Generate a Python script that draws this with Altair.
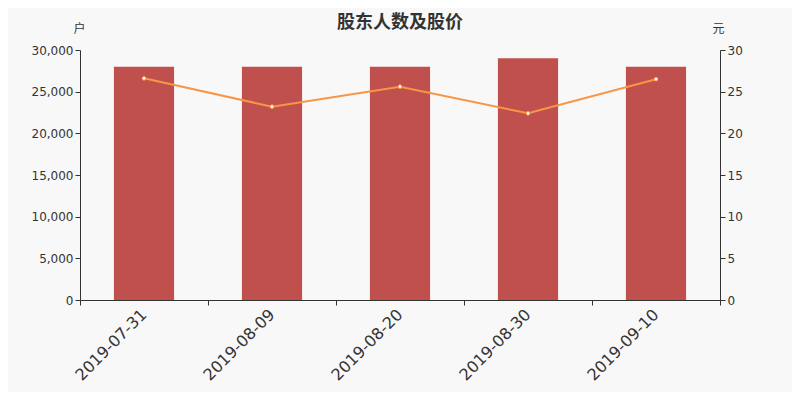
import altair as alt
import pandas as pd

dates = ["2019-07-31", "2019-08-09", "2019-08-20", "2019-08-30", "2019-09-10"]
holders = [28000, 28000, 28000, 29000, 28000]
prices = [26.6, 23.2, 25.6, 22.4, 26.5]

df = pd.DataFrame({"date": dates, "holders": holders, "price": prices})

CJK = "Noto Sans CJK SC"
NUM = "DejaVu Sans"
TXT = "#333333"

x = alt.X("date:N", sort=dates, title=None,
          scale=alt.Scale(paddingInner=0, paddingOuter=0),
          axis=alt.Axis(labelAngle=315, labelFontSize=16, labelColor=TXT, labelFont=NUM,
                        tickBand="extent", domainColor=TXT, tickColor=TXT,
                        labelPadding=1, labelOffset=-6, tickSize=5))

bars = alt.Chart(df).mark_bar(color="#c0504d", width=alt.RelativeBandSize(0.47)).encode(
    x=x,
    y=alt.Y("holders:Q", scale=alt.Scale(domain=[0, 30000]),
            axis=alt.Axis(title="户", titleAngle=0, titleX=-1, titleY=-22, titleAlign="center",
                          titleBaseline="middle", titleFont=CJK,
                          titleFontWeight="normal", titleFontSize=12, titleColor=TXT,
                          format=",.0f", values=[0, 5000, 10000, 15000, 20000, 25000, 30000],
                          labelColor=TXT, labelFontSize=12, labelFont=NUM, grid=False,
                          labelOverlap=False,
                          domainColor=TXT, tickColor=TXT, tickSize=5))
)

line = alt.Chart(df).mark_line(color="#f79646", strokeWidth=2, point=alt.OverlayMarkDef(
    filled=True, fill="white", stroke="#f79646", strokeWidth=1, size=14)).encode(
    x=x,
    y=alt.Y("price:Q", scale=alt.Scale(domain=[0, 30]),
            axis=alt.Axis(title="元", orient="right", titleAngle=0, titleX=-2, titleY=-22,
                          titleAlign="center", titleBaseline="middle", titleFont=CJK,
                          titleFontWeight="normal", titleFontSize=12,
                          titleColor=TXT, values=[0, 5, 10, 15, 20, 25, 30],
                          labelColor=TXT, labelFontSize=12, labelFont=NUM, grid=False,
                          labelOverlap=False,
                          domainColor=TXT, tickColor=TXT, tickSize=5))
)

chart = alt.layer(bars, line).resolve_scale(y="independent").properties(
    width=640, height=250,
    background="#f8f8f8",
    autosize=alt.AutoSizeParams(type="none"),
    padding={"left": 72, "top": 42, "right": 72, "bottom": 92},
    title=alt.TitleParams("股东人数及股价", fontSize=18, fontWeight="bold", color=TXT,
                          anchor="middle", frame="group", offset=0, dy=10, font=CJK),
).configure_view(stroke=None)

chart.save("out.html", embed_options={"renderer": "svg", "actions": False})
